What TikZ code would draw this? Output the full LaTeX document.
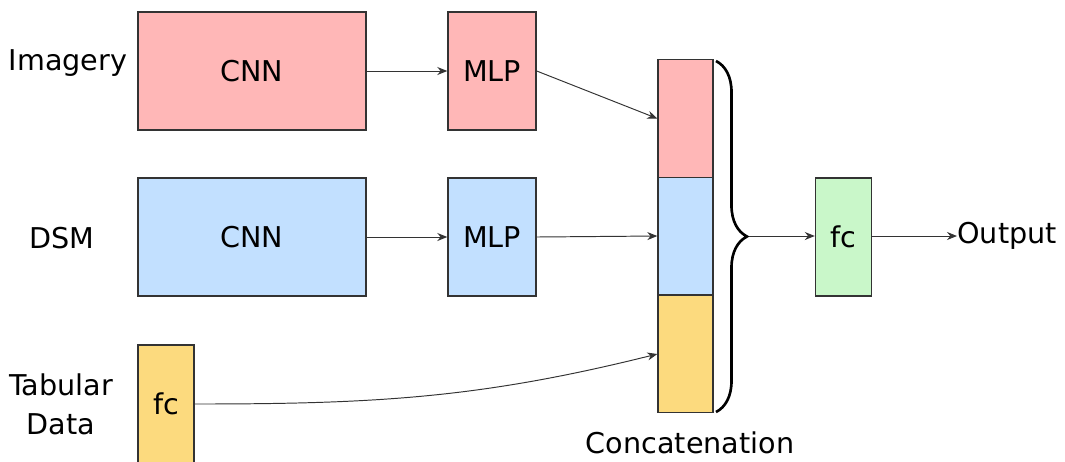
\documentclass[tikz,border=0pt]{standalone}
\usepackage{fontspec}
\setmainfont{DejaVu Sans}
\usepackage{tikz}
\usetikzlibrary{arrows.meta,positioning,decorations.pathreplacing,calc}
\definecolor{imgpink}{HTML}{FFB7B7}
\definecolor{dsmblue}{HTML}{C2E0FF}
\definecolor{tabyellow}{HTML}{FCDA7E}
\definecolor{outgreen}{HTML}{C9F7C9}
\definecolor{edgegray}{HTML}{333333}

\begin{document}
\begin{tikzpicture}[
    x=0.02cm, y=-0.02cm,
    font=\fontsize{16.3}{19}\selectfont,
    block/.style={rectangle, draw=edgegray, line width=0.8pt, inner sep=0pt,
                 minimum height=2.36cm},
    cnnbox/.style={block, minimum width=4.56cm},
    mlpbox/.style={block, minimum width=1.76cm},
    fcbox/.style={block, minimum width=1.12cm},
    catbox/.style={block, minimum width=1.1cm, minimum height=2.35cm},
    lbl/.style={align=center, inner sep=0pt},
    arr/.style={-{Stealth[length=2mm,width=1.6mm]}, draw=edgegray, line width=0.55pt},
]
    \useasboundingbox (0,0) rectangle (1065,461);

    % input rows
    \node[cnnbox, fill=imgpink] (cnn1) at (252,71) {CNN};
    \node[mlpbox, fill=imgpink] (mlp1) at (492,71) {MLP};
    \node[cnnbox, fill=dsmblue] (cnn2) at (252,237) {CNN};
    \node[mlpbox, fill=dsmblue] (mlp2) at (492,237) {MLP};
    \node[fcbox, fill=tabyellow] (fc1) at (166,404) {fc};

    \node[lbl] (l1) at (68,63) {Imagery};
    \node[lbl] (l2) at (62,238) {DSM};
    \node[lbl] (l3) at (61,404) {Tabular\\[3pt]Data};

    % concatenated vector
    \node[catbox, fill=imgpink] (cat1) at (685.5,118.5) {};
    \node[catbox, fill=dsmblue] (cat2) at (685.5,236) {};
    \node[catbox, fill=tabyellow] (cat3) at (685.5,354) {};
    \node[lbl] (catl) at (690,443) {Concatenation};

    \draw[line width=1.5pt, decorate, decoration={brace, amplitude=0.62cm}]
        (716,61) -- (716,412);
    \coordinate (tip) at (749,236);

    \node[fcbox, fill=outgreen] (fc2) at (843.5,237) {fc};
    \node[lbl, anchor=west] (out) at (957,236) {Output};

    \draw[arr] (cnn1) -- (mlp1);
    \draw[arr] (cnn2) -- (mlp2);
    \draw[arr] (mlp1.east) -- (cat1.west);
    \draw[arr] (mlp2.east) -- (cat2.west);
    \draw[arr] (fc1.east) to[out=0, in=194] (cat3.west);
    \draw[arr] (tip) -- (tip -| fc2.west);
    \draw[arr] (fc2.east |- tip) -- (tip -| out.west);
\end{tikzpicture}
\end{document}
